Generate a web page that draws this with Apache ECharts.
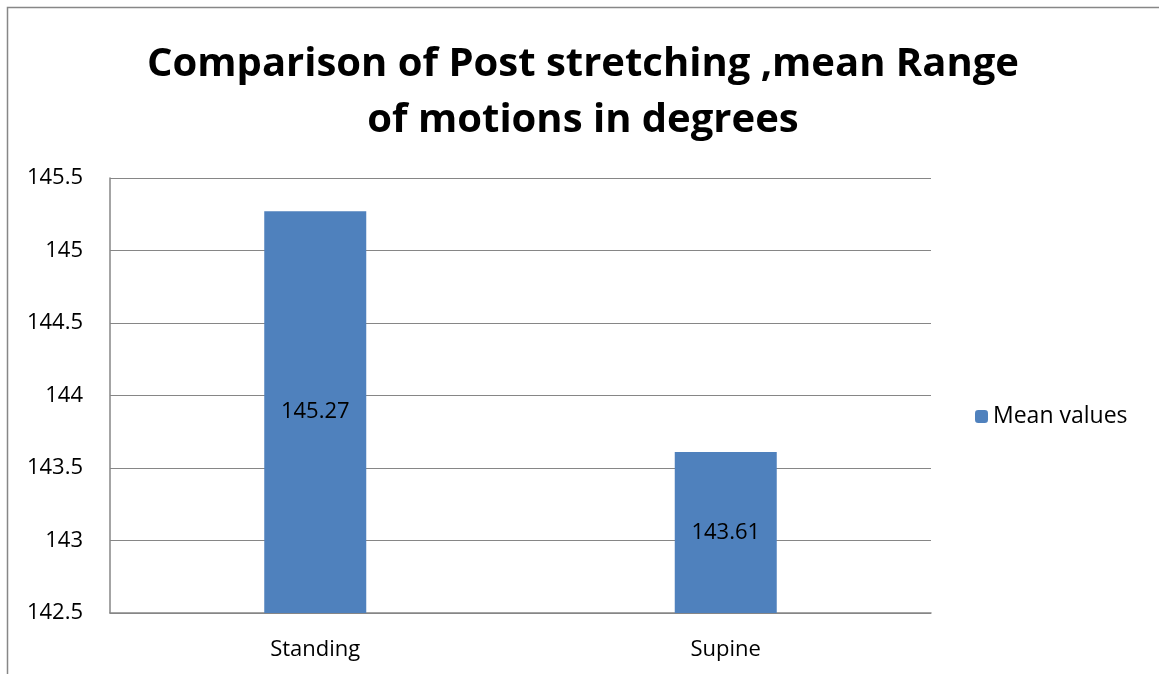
<!DOCTYPE html>
<html><head><meta charset="utf-8">
<script src="https://cdn.jsdelivr.net/npm/echarts@6/dist/echarts.min.js"></script>
<style>html,body{margin:0;padding:0;background:#fff}#c{width:1159px;height:674px}</style>
</head><body><div id="c"></div>
<script>
const categories = ['Standing', 'Supine'];
const meanValues = [145.27, 143.61];
const seriesName = 'Mean values';
const titleText = 'Comparison of Post stretching ,mean Range\nof motions in degrees';

const chart = echarts.init(document.getElementById('c'));
chart.setOption({
  backgroundColor: '#fff',
  animation: false,
  graphic: [{
    type: 'rect', shape: { x: 7.5, y: 7.5, width: 1200, height: 700 },
    style: { fill: 'none', stroke: '#878787', lineWidth: 1.5 }, silent: true
  }],
  title: {
    text: titleText, left: 578, top: 32, textAlign: 'center',
    textStyle: { fontFamily: 'Open Sans', fontWeight: 'bold', fontSize: 40, lineHeight: 56, color: '#000' }
  },
  legend: {
    data: [seriesName], orient: 'vertical', left: 970, top: 400,
    itemWidth: 13, itemHeight: 13, itemGap: 8,
    textStyle: { fontFamily: 'Open Sans', fontSize: 23, color: '#000' }
  },
  grid: { left: 110, right: 228, top: 178, bottom: 61, containLabel: false },
  xAxis: {
    type: 'category', data: categories,
    axisLine: { lineStyle: { color: '#868686', width: 1.5 } },
    axisTick: { show: false },
    axisLabel: { margin: 26, fontFamily: 'Open Sans', fontSize: 22, color: '#000' }
  },
  yAxis: {
    type: 'value', min: 142.5, max: 145.5, interval: 0.5,
    axisLine: { show: true, lineStyle: { color: '#868686', width: 1.5 } },
    axisTick: { show: false },
    splitLine: { lineStyle: { color: '#868686', width: 1.2 } },
    axisLabel: { margin: 27, fontFamily: 'Open Sans', fontSize: 22, color: '#000',
      formatter: v => String(Math.round(v * 10) / 10) }
  },
  series: [{
    name: seriesName, type: 'bar', data: meanValues, barWidth: 102,
    itemStyle: { color: '#4f81bd' },
    label: { show: true, position: 'inside', fontFamily: 'Open Sans', fontSize: 22, color: '#000',
      formatter: p => p.value.toFixed(2) }
  }]
});
</script></body></html>
